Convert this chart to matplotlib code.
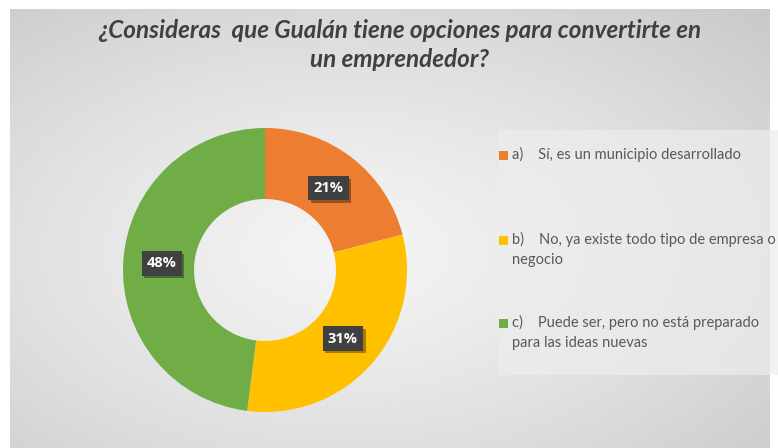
import numpy as np
import matplotlib
matplotlib.use("Agg")
import matplotlib.pyplot as plt
import matplotlib.patheffects as pe
from matplotlib.patches import Rectangle

# Chart data
labels = [
    "a)    Sí, es un municipio desarrollado",
    "b)    No, ya existe todo tipo de empresa o\nnegocio",
    "c)    Puede ser, pero no está preparado\npara las ideas nuevas",
]
values = [21, 31, 48]
colors = ["#ED7D31", "#FFC000", "#70AD47"]
title = "¿Consideras  que Gualán tiene opciones para convertirte en\nun emprendedor?"

W, H = 778, 448
fig = plt.figure(figsize=(W / 100, H / 100), dpi=100)
fig.patch.set_facecolor("white")

# Gray panel with radial gradient
bg = fig.add_axes([10 / W, 0, 760 / W, 1 - 9 / H])
bg.set_axis_off()
yy, xx = np.mgrid[0:200, 0:340]
cx, cy = 150, 110
d = np.sqrt(((xx - cx) / 340) ** 2 + ((yy - cy) / 200) ** 2)
d = d / d.max()
shade = 0.955 - 0.17 * d ** 1.3
bg.imshow(shade, cmap="gray", vmin=0, vmax=1, aspect="auto",
          extent=[0, 1, 0, 1], interpolation="bilinear")
bg.set_xlim(0, 1)
bg.set_ylim(0, 1)

# Title
fig.text(400 / W, 1 - 45 / H, title, ha="center", va="center",
         fontsize=17.5, fontweight="bold", style="italic",
         family="Lato", color="#404040", linespacing=1.3)

# Donut
r_px = 142
cxp, cyp = 265, 270
ax = fig.add_axes([(cxp - r_px) / W, 1 - (cyp + r_px) / H, 2 * r_px / W, 2 * r_px / H])
ax.set_axis_off()
wedges, _, autotexts = ax.pie(
    values, colors=colors, startangle=90, counterclock=False, radius=1,
    wedgeprops=dict(width=0.5, edgecolor="none"),
    autopct="%d%%", pctdistance=0.73,
    textprops=dict(color="white", fontsize=10.5, fontweight="bold", family="Open Sans"),
)
for t in autotexts:
    t.set_bbox(dict(boxstyle="square,pad=0.35", facecolor="#404040", edgecolor="none"))
    t.get_bbox_patch().set_path_effects([
        pe.withSimplePatchShadow(offset=(2, -2), shadow_rgbFace="black", alpha=0.35)
    ])
ax.set_xlim(-1, 1)
ax.set_ylim(-1, 1)

# Legend panel
fig.patches.append(Rectangle((498 / W, 1 - 375 / H), 290 / W, 245 / H,
                             transform=fig.transFigure, facecolor="#ededed",
                             edgecolor="none", alpha=0.7, zorder=1))
entry_y = [155, 240, 323]
for lab, col, y in zip(labels, colors, entry_y):
    fig.patches.append(Rectangle((499 / W, 1 - (y + 5) / H), 9 / W, 9 / H,
                                 transform=fig.transFigure, facecolor=col,
                                 edgecolor="none", zorder=2))
    fig.text(512 / W, 1 - (y - 8) / H, lab, ha="left", va="top",
             fontsize=10.5, family="Lato", color="#595959",
             linespacing=1.55, zorder=3)

fig.savefig("out.png", dpi=100)
